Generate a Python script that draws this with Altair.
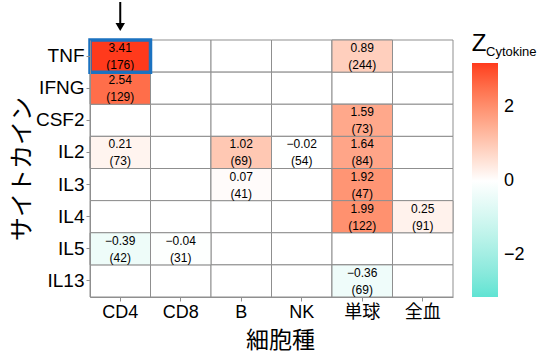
import altair as alt
import pandas as pd

cytokines = ["TNF", "IFNG", "CSF2", "IL2", "IL3", "IL4", "IL5", "IL13"]
cell_types = ["CD4", "CD8", "B", "NK", "単球", "全血"]

obs_cytokine = ["TNF", "TNF", "IFNG", "CSF2", "IL2", "IL2", "IL2", "IL2",
                "IL3", "IL3", "IL4", "IL4", "IL5", "IL5", "IL13"]
obs_cell = ["CD4", "単球", "CD4", "単球", "CD4", "B", "NK", "単球",
            "B", "単球", "単球", "全血", "CD4", "CD8", "単球"]
z_values = [3.41, 0.89, 2.54, 1.59, 0.21, 1.02, -0.02, 1.64,
            0.07, 1.92, 1.99, 0.25, -0.39, -0.04, -0.36]
n_values = [176, 244, 129, 73, 73, 69, 54, 84,
            41, 47, 122, 91, 42, 31, 69]

highlight_cytokine = ["TNF"]
highlight_cell = ["CD4"]

obs = pd.DataFrame({"cytokine": obs_cytokine, "cell": obs_cell,
                    "z": z_values, "n": n_values})
grid = pd.DataFrame([(c, t) for c in cytokines for t in cell_types],
                    columns=["cytokine", "cell"])
hl = pd.DataFrame({"cytokine": highlight_cytokine, "cell": highlight_cell})

FONT = "Liberation Sans"
JP = "Noto Sans CJK JP"
GRID = "#8f8f8f"

xenc = alt.X("cell:N", sort=cell_types,
             scale=alt.Scale(paddingInner=0, paddingOuter=0),
             axis=alt.Axis(title="細胞種", titleFont=JP, titleFontSize=23,
                           titleFontWeight="normal", titleColor="black",
                           titleBaseline="middle", titleY=43, titleX=190,
                           labelFont="Liberation Sans, Noto Sans CJK JP",
                           labelFontSize=18, labelColor="black",
                           labelAngle=0, labelPadding=2, tickSize=4,
                           tickColor=GRID, domainColor=GRID, grid=False))
yenc = alt.Y("cytokine:N", sort=cytokines,
             scale=alt.Scale(paddingInner=0, paddingOuter=0),
             axis=alt.Axis(title="サイトカイン", titleFont=JP, titleFontSize=24,
                           titleFontWeight="normal", titleColor="black",
                           titleAngle=-90, titleBaseline="middle",
                           titleAlign="center", titleX=-68,
                           labelFont=FONT, labelFontSize=19, labelColor="black",
                           labelPadding=2, tickSize=4,
                           tickColor=GRID, domainColor=GRID, grid=False))

background = alt.Chart(grid).mark_rect(fill="white", stroke=GRID,
                                       strokeWidth=1).encode(x=xenc, y=yenc)

colored = alt.Chart(obs).mark_rect(stroke=GRID, strokeWidth=1).encode(
    x=xenc, y=yenc,
    color=alt.Color("z:Q",
                    scale=alt.Scale(domain=[-3.15, 0, 3.2],
                                    range=["#5fe3d3", "#ffffff", "#ff3a1c"],
                                    interpolate="lab", clamp=True),
                    legend=alt.Legend(orient="none", legendX=382, legendY=23,
                                      direction="vertical",
                                      gradientLength=234, gradientThickness=26,
                                      gradientStrokeWidth=0,
                                      values=[-2, 0, 2], labelFont=FONT,
                                      labelFontSize=18, labelColor="black",
                                      labelOffset=6),
                    title=None))

val_text = alt.Chart(obs).mark_text(font=FONT, fontSize=12, color="black",
                                    dy=-8).encode(
    x=xenc, y=yenc, text=alt.Text("z:Q", format=".2f"))

n_text = alt.Chart(obs).transform_calculate(
    label="'(' + datum.n + ')'").mark_text(font=FONT, fontSize=12,
                                           color="black", dy=9).encode(
    x=xenc, y=yenc, text="label:N")

highlight = alt.Chart(hl).mark_rect(fill=None, fillOpacity=0, stroke="#1b72c0",
                                    strokeWidth=3.5).encode(x=xenc, y=yenc)

arrow_shaft = alt.Chart(hl).mark_rule(color="black", strokeWidth=2).encode(
    x=xenc, y=alt.value(-38), y2=alt.value(-17))
arrow_head = alt.Chart(hl).mark_point(shape="triangle-down", filled=True,
                                      color="black", size=90, opacity=1).encode(
    x=xenc, y=alt.value(-13))

one = pd.DataFrame({"a": [0]})
z_title = alt.Chart(one).mark_text(text="Z", font=FONT, fontSize=24,
                                   color="black", align="center",
                                   baseline="middle").encode(
    x=alt.value(389), y=alt.value(4))
z_sub = alt.Chart(one).mark_text(text="Cytokine", font=FONT, fontSize=13,
                                 color="black", align="left",
                                 baseline="middle").encode(
    x=alt.value(396), y=alt.value(12))

chart = alt.layer(background, colored, val_text, n_text, highlight,
                  arrow_shaft, arrow_head, z_title, z_sub).properties(
    width=363, height=257,
    autosize=alt.AutoSizeParams(type="none"),
    padding={"left": 90, "top": 40, "right": 97, "bottom": 58},
).configure_view(stroke=None)

chart.save("out.html", embed_options={"renderer": "svg", "actions": False})
